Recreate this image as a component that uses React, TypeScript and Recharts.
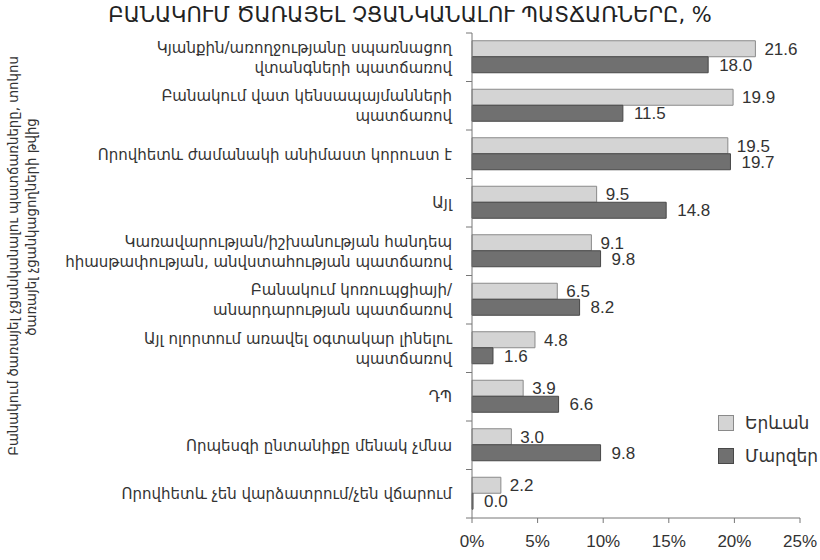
import React from 'react';
import { BarChart, Bar, XAxis, YAxis, LabelList } from 'recharts';

// պատճառներ (բաժանված տողերի)
const categories: string[][] = [
  ['Կյանքին/առողջությանը սպառնացող', 'վտանգների պատճառով'],
  ['Բանակում վատ կենսապայմանների', 'պատճառով'],
  ['Որովհետև ժամանակի անիմաստ կորուստ է'],
  ['Այլ'],
  ['Կառավարության/իշխանության հանդեպ', 'հիասթափության,  անվստահության պատճառով'],
  ['Բանակում կոռուպցիայի/', 'անարդարության պատճառով'],
  ['Այլ ոլորտում առավել օգտակար լինելու', 'պատճառով'],
  ['ԴՊ'],
  ['Որպեսզի ընտանիքը մենակ չմնա'],
  ['Որովհետև չեն վարձատրում/չեն վճարում'],
];
const yerevan = [21.6, 19.9, 19.5, 9.5, 9.1, 6.5, 4.8, 3.9, 3.0, 2.2];
const marzer = [18.0, 11.5, 19.7, 14.8, 9.8, 8.2, 1.6, 6.6, 9.8, 0.0];
const xTicks = [0, 5, 10, 15, 20, 25];

const SERIES_A = 'Երևան';
const SERIES_B = 'Մարզեր';
const TITLE = 'ԲԱՆԱԿՈՒՄ ԾԱՌԱՅԵԼ ՉՑԱՆԿԱՆԱԼՈՒ ՊԱՏՃԱՌՆԵՐԸ, %';
const YTITLE_1 = 'Բանակում ծառայել չցանկանալու պատճառները, տոկոս';
const YTITLE_2 = 'ծառայել չցանկացողների թվից';

const LIGHT = '#d4d4d4';
const LIGHT_STROKE = '#8a8a8a';
const DARK = '#707070';
const DARK_STROKE = '#484848';
const TEXT = '#333';
const ARM_FONT = '"DejaVu Sans", sans-serif';
const NUM_FONT = '"Liberation Sans", Arial, sans-serif';

const W = 820;
const H = 560;
const AXIS_X = 472;
const PLOT_TOP = 33;
const PLOT_BOTTOM = 518;
const BAND = (PLOT_BOTTOM - PLOT_TOP) / categories.length;

const data = categories.map((c, i) => ({
  key: String(i),
  [SERIES_A]: yerevan[i],
  [SERIES_B]: marzer[i],
}));

const fmt = (v: any) => Number(v).toFixed(1);

const CategoryTick = (props: any) => {
  const { y, payload, index } = props;
  const lines = categories[Number(payload.value)];
  const lh = 20;
  const y0 = y - ((lines.length - 1) * lh) / 2;
  return (
    <g>
      <line x1={AXIS_X - 6} x2={AXIS_X} y1={y - BAND / 2} y2={y - BAND / 2} stroke="#777" />
      {index === categories.length - 1 && (
        <line x1={AXIS_X - 6} x2={AXIS_X} y1={y + BAND / 2} y2={y + BAND / 2} stroke="#777" />
      )}
      <text x={452} y={y0} textAnchor="end" fill={TEXT} fontSize={15} fontFamily={ARM_FONT}>
        {lines.map((l, i) => (
          <tspan key={i} x={452} y={y0 + i * lh} dy="0.35em" textAnchor="end">
            {l}
          </tspan>
        ))}
      </text>
    </g>
  );
};

const LegendBox = () => (
  <div
    style={{
      position: 'absolute',
      left: 718,
      top: 406,
      fontFamily: ARM_FONT,
      fontSize: 17,
      color: TEXT,
    }}
  >
    {[
      [SERIES_A, LIGHT, LIGHT_STROKE],
      [SERIES_B, DARK, DARK_STROKE],
    ].map(([name, fill, stroke]) => (
      <div key={name} style={{ display: 'flex', alignItems: 'center', height: 33 }}>
        <span
          style={{
            display: 'inline-block',
            width: 14,
            height: 14,
            background: fill,
            border: `1px solid ${stroke}`,
            marginRight: 11,
          }}
        />
        {name}
      </div>
    ))}
  </div>
);

export default function App() {
  return (
    <div style={{ position: 'absolute', left: 0, top: 0, width: W, height: H, background: '#fff' }}>
      <div
        style={{
          position: 'absolute',
          left: 0,
          top: 3,
          width: W,
          textAlign: 'center',
          fontFamily: ARM_FONT,
          fontSize: 21,
          color: '#222',
          whiteSpace: 'nowrap',
        }}
      >
        {TITLE}
      </div>
      <svg style={{ position: 'absolute', left: 0, top: 0 }} width={60} height={H}>
        <text
          transform="translate(13,256) rotate(-90)"
          textAnchor="middle"
          dominantBaseline="central"
          fontFamily={ARM_FONT}
          fontSize={13.3}
          fill={TEXT}
        >
          {YTITLE_1}
        </text>
        <text
          transform="translate(31,227) rotate(-90)"
          textAnchor="middle"
          dominantBaseline="central"
          fontFamily={ARM_FONT}
          fontSize={13.3}
          fill={TEXT}
        >
          {YTITLE_2}
        </text>
      </svg>
      <div style={{ position: 'absolute', left: 0, top: 0 }}>
        <BarChart
          width={W}
          height={H}
          data={data}
          layout="vertical"
          margin={{ top: PLOT_TOP, right: 20, bottom: 0, left: 0 }}
          barCategoryGap="16%"
          barGap={0}
        >
          <XAxis
            type="number"
            domain={[0, 25]}
            ticks={xTicks}
            tickFormatter={(v: number) => `${v}%`}
            height={H - PLOT_BOTTOM}
            stroke="#777"
            tickSize={5}
            tickMargin={12}
            tick={{ fill: TEXT, fontSize: 17, fontFamily: NUM_FONT }}
          />
          <YAxis
            type="category"
            dataKey="key"
            width={AXIS_X}
            stroke="#777"
            tickLine={false}
            tick={<CategoryTick />}
            interval={0}
          />
          <Bar dataKey={SERIES_A} fill={LIGHT} stroke={LIGHT_STROKE} isAnimationActive={false}>
            <LabelList
              dataKey={SERIES_A}
              position="right"
              offset={9}
              formatter={fmt}
              fill={TEXT}
              fontSize={17}
              fontFamily={NUM_FONT}
            />
          </Bar>
          <Bar
            dataKey={SERIES_B}
            fill={DARK}
            stroke={DARK_STROKE}
            minPointSize={1}
            isAnimationActive={false}
          >
            <LabelList
              dataKey={SERIES_B}
              position="right"
              offset={11}
              formatter={fmt}
              fill={TEXT}
              fontSize={17}
              fontFamily={NUM_FONT}
            />
          </Bar>
        </BarChart>
      </div>
      <LegendBox />
    </div>
  );
}
